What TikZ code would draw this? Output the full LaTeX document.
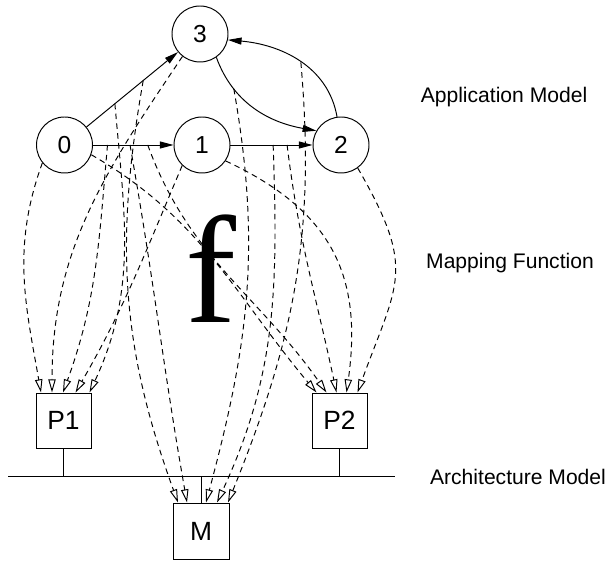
\documentclass[tikz,border=0pt]{standalone}
\usepackage{fontspec}
\setmainfont{Liberation Sans}
\newfontfamily\timesfont{Liberation Serif}
\usetikzlibrary{arrows.meta}

\begin{document}
\begin{tikzpicture}[line width=0.55pt,
    task/.style={draw, circle, minimum size=1.12cm, inner sep=0pt, font=\fontsize{14}{16}\selectfont},
    proc/.style={draw, rectangle, minimum size=1.1cm, inner sep=0pt, font=\fontsize{15}{17}\selectfont},
    link/.style={-{Triangle[length=7.8pt,width=4pt]}},
    map/.style={dash pattern=on 3.2pt off 2.4pt, -{Triangle[open,length=7.5pt,width=4.2pt]}},
    layer/.style={font=\fontsize{12}{14}\selectfont}]
  \useasboundingbox (0,0) rectangle (12.16,11.2);
  \node[task] (t3) at (4.00,10.52) {3};
  \node[task] (t0) at (1.29,8.30) {0};
  \node[task] (t1) at (4.04,8.30) {1};
  \node[task] (t2) at (6.82,8.30) {2};
  \node[proc] (p1) at (1.27,2.79) {P1};
  \node[proc] (p2) at (6.79,2.79) {P2};
  \node[proc, minimum size=1.12cm] (m) at (4.02,0.58) {M};
  \draw[link] (t0) -- coordinate[pos=0.31] (a03) coordinate[pos=0.62] (b03) (t3);
  \draw[link] (t0) -- coordinate[pos=0.18] (a01) coordinate[pos=0.46] (b01) coordinate[pos=0.68] (c01) (t1);
  \draw[link] (t1) -- coordinate[pos=0.52] (a12) coordinate[pos=0.69] (b12) (t2);
  \draw[link] (t3.-55) to[out=-70,in=170] coordinate[pos=0.27] (a32) (t2.150);
  \draw[link] (t2.98) to[out=100,in=-5] coordinate[pos=0.48] (a23) (t3.-12);
  \draw[map] (t0.219) to[out=250,in=100] ([xshift=-0.45cm]p1.north);
  \draw[map] (t3.232) to[out=236,in=90] ([xshift=-0.23cm]p1.north);
  \draw[map] (a01) to[out=265,in=70] ([xshift=-0.01cm]p1.north);
  \draw[map] (t1.226) to[out=247,in=60] ([xshift=0.24cm]p1.north);
  \draw[map] (a03) to[out=275,in=65] ([xshift=0.52cm]p1.north);
  \draw[map] (b03) to[out=260,in=110] ([xshift=-0.46cm]m.north);
  \draw[map] (b01) to[out=-80,in=100] ([xshift=-0.28cm]m.north);
  \draw[map] (a32) to[out=-80,in=75] ([xshift=0.10cm]m.north);
  \draw[map] (a12) to[out=-88,in=65] ([xshift=0.32cm]m.north);
  \draw[map] (a23) to[out=-85,in=68] ([xshift=0.54cm]m.north);
  \draw[map] (t0.-20) to[out=-30,in=130] ([xshift=-0.46cm]p2.north);
  \draw[map] (c01) to[out=-70,in=125] ([xshift=-0.26cm]p2.north);
  \draw[map] (b12) to[out=-83,in=102] ([xshift=-0.06cm]p2.north);
  \draw[map] (t1.-34) to[out=-25,in=82,looseness=1.15] ([xshift=0.14cm]p2.north);
  \draw[map] (t2.-54) to[out=-60,in=70,looseness=1.35] ([xshift=0.36cm]p2.north);
  \coordinate (busw) at (0.16,1.68);
  \coordinate (buse) at (7.90,1.68);
  \draw (busw) -- (buse);
  \draw (p1.south) -- (p1.south |- busw);
  \draw (p2.south) -- (p2.south |- busw);
  \draw (m.north) -- (m.north |- busw);
  \node[font=\timesfont\fontsize{87}{87}\selectfont, anchor=base west, inner sep=0pt] (fun) at (3.70,4.74) {f};
  \node[layer] (app) at (10.08,9.26) {Application Model};
  \node[layer] (mapf) at (10.20,5.94) {Mapping Function};
  \node[layer] (arch) at (10.36,1.66) {Architecture Model};
\end{tikzpicture}
\end{document}
